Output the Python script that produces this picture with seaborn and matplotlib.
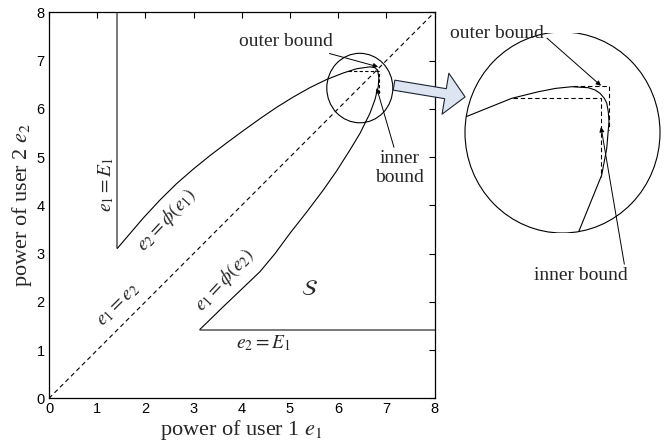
import matplotlib
matplotlib.use("Agg")
import matplotlib.pyplot as plt
import seaborn as sns
from matplotlib.patches import Ellipse

sns.set_style("white")
plt.rcParams["font.family"] = ["Liberation Sans", "DejaVu Sans"]
plt.rcParams["mathtext.fontset"] = "stix"

SERIF = ["Liberation Serif", "DejaVu Serif"]

# Energy level E1 and the two boundary curves of the region S
E1 = 1.42
upper_e1 = [1.418, 1.957, 2.303, 2.649, 2.994, 3.340, 3.686, 4.032, 4.378, 4.723,
            5.069, 5.415, 5.761, 6.106, 6.383, 6.660, 6.760, 6.820]
upper_e2 = [3.108, 3.737, 4.110, 4.450, 4.750, 5.030, 5.292, 5.547, 5.795, 6.030,
            6.244, 6.439, 6.607, 6.742, 6.830, 6.870, 6.855, 6.800]
lower_e1 = [3.133, 3.617, 4.378, 4.689, 5.000, 5.346, 5.692, 5.968, 6.245, 6.452,
            6.660, 6.763, 6.833, 6.845, 6.820]
lower_e2 = [1.429, 1.899, 2.624, 2.997, 3.419, 3.858, 4.317, 4.711, 5.146, 5.488,
            5.906, 6.186, 6.459, 6.650, 6.800]

# Bound corner near the top of the region
bound_e1 = [6.20, 6.85, 6.85]
bound_e2 = [6.78, 6.78, 6.29]

# Magnified view of the corner
zoom_center = (6.45, 6.43)
zoom_e1 = [5.68, 6.087, 6.277, 6.40, 6.516, 6.634, 6.682, 6.718, 6.749, 6.766, 6.777, 6.782, 6.766, 6.730, 6.527]
zoom_e2 = [6.51, 6.674, 6.721, 6.745, 6.757, 6.750, 6.734, 6.710, 6.674, 6.639, 6.579, 6.507, 6.317, 6.126, 5.626]
inner_e1 = [6.099, 6.723, 6.723]
inner_e2 = [6.674, 6.674, 6.114]
outer_e1 = [6.527, 6.782, 6.782]
outer_e2 = [6.760, 6.760, 6.448]

ticks = list(range(0, 9))

fig = plt.figure(figsize=(6.71, 4.45), dpi=100)
ax = fig.add_axes([49 / 671, 1 - 398.3 / 445, 385.5 / 671, 386 / 445])

line_kw = dict(sort=False, estimator=None, color="black", linewidth=0.8, legend=False)

# Constraint lines e1 = E1 and e2 = E1
sns.lineplot(x=[E1, E1], y=[upper_e2[0], 8], ax=ax, **{**line_kw, "color": "#555555", "linewidth": 1.1})
sns.lineplot(x=[lower_e1[0], 8], y=[E1, E1], ax=ax, **{**line_kw, "color": "#555555", "linewidth": 1.1})
# Boundary curves
sns.lineplot(x=upper_e1, y=upper_e2, ax=ax, **line_kw)
sns.lineplot(x=lower_e1, y=lower_e2, ax=ax, **line_kw)
# Diagonal e1 = e2
ax.plot([0, 8], [0, 8], color="black", linewidth=0.8, linestyle=(0, (4, 3)))
ax.plot(bound_e1, bound_e2, color="black", linewidth=0.8, linestyle=(0, (3, 2)))
ax.add_patch(Ellipse(zoom_center, 1.37, 1.44, fill=False, edgecolor="black", linewidth=0.8))

ax.set_xlim(0, 8)
ax.set_ylim(0, 8)
ax.set_xticks(ticks)
ax.set_yticks(ticks)
ax.tick_params(direction="in", top=True, right=True, length=4, width=0.8,
               labelsize=10.5, pad=3, colors="black")
for s in ax.spines.values():
    s.set_color("black")
    s.set_linewidth(0.9)

ax.set_xlabel(r"power of user 1 $e_1$", fontsize=16, family=SERIF, labelpad=1)
ax.set_ylabel(r"power of user 2 $e_2$", fontsize=16, family=SERIF, labelpad=2)

tkw = dict(fontsize=14, family=SERIF, ha="center", va="center", rotation_mode="anchor")
ax.text(1.18, 4.42, r"$e_1 = E_1$", rotation=90, **tkw)
ax.text(2.44, 3.70, r"$e_2 = \phi(e_1)$", rotation=47, **tkw)
ax.text(1.44, 1.93, r"$e_1 = e_2$", rotation=45, **tkw)
ax.text(3.65, 2.45, r"$e_1 = \phi(e_2)$", rotation=47, **tkw)
ax.text(5.41, 2.24, r"$\mathcal{S}$", **{**tkw, "fontsize": 16})
ax.text(4.45, 1.14, r"$e_2 = E_1$", **tkw)

arrow_kw = dict(arrowstyle="-|>", color="black", lw=0.7, mutation_scale=7, shrinkA=0, shrinkB=0)
ax.annotate("outer bound", xy=(6.83, 6.87), xytext=(5.90, 7.39),
            fontsize=14, family=SERIF, ha="right", va="center", arrowprops=arrow_kw)
ax.annotate("inner\nbound", xy=(6.80, 6.43), xytext=(7.28, 4.77),
            fontsize=14, family=SERIF, ha="center", va="center",
            arrowprops={**arrow_kw, "relpos": (0.4, 1.0)}, linespacing=1.1)

# Magnified inset
half = 100 / 140
axz = fig.add_axes([462.5 / 671, 1 - 232.5 / 445, 200 / 671, 200 / 445])
axz.set_xlim(zoom_center[0] - half, zoom_center[0] + half)
axz.set_ylim(zoom_center[1] - half, zoom_center[1] + half)
axz.axis("off")
ring = Ellipse(zoom_center, 1.393, 1.436, fill=False, edgecolor="black", linewidth=0.8)
axz.add_patch(ring)
zl = axz.plot(zoom_e1, zoom_e2, color="black", linewidth=0.8)[0]
zl.set_clip_path(ring)
axz.plot(inner_e1, inner_e2, color="black", linewidth=0.8, linestyle=(0, (4, 2.5)))
axz.plot(outer_e1, outer_e2, color="black", linewidth=0.8, linestyle=(0, (4, 2.5)))
axz.annotate("outer bound", xy=(6.725, 6.764), xytext=(5.98, 7.137),
             fontsize=14, family=SERIF, ha="center", va="center",
             arrowprops={**arrow_kw, "relpos": (0.98, 0.5)}, annotation_clip=False)
axz.annotate("inner bound", xy=(6.725, 6.469), xytext=(6.581, 5.405),
             fontsize=14, family=SERIF, ha="center", va="center",
             arrowprops={**arrow_kw, "relpos": (0.97, 1.0)}, annotation_clip=False)

# Block arrow from the circled corner to the inset
axz.annotate("", xy=(5.754, 6.684), xycoords=axz.transData,
             xytext=(7.16, 6.49), textcoords=ax.transData,
             arrowprops=dict(arrowstyle="simple,head_length=0.55,head_width=1.15,tail_width=0.28",
                             mutation_scale=26, fc="#dde5f3", ec="#1c2333", lw=0.8,
                             shrinkA=0, shrinkB=0),
             annotation_clip=False)

fig.savefig("out.png", dpi=100)
